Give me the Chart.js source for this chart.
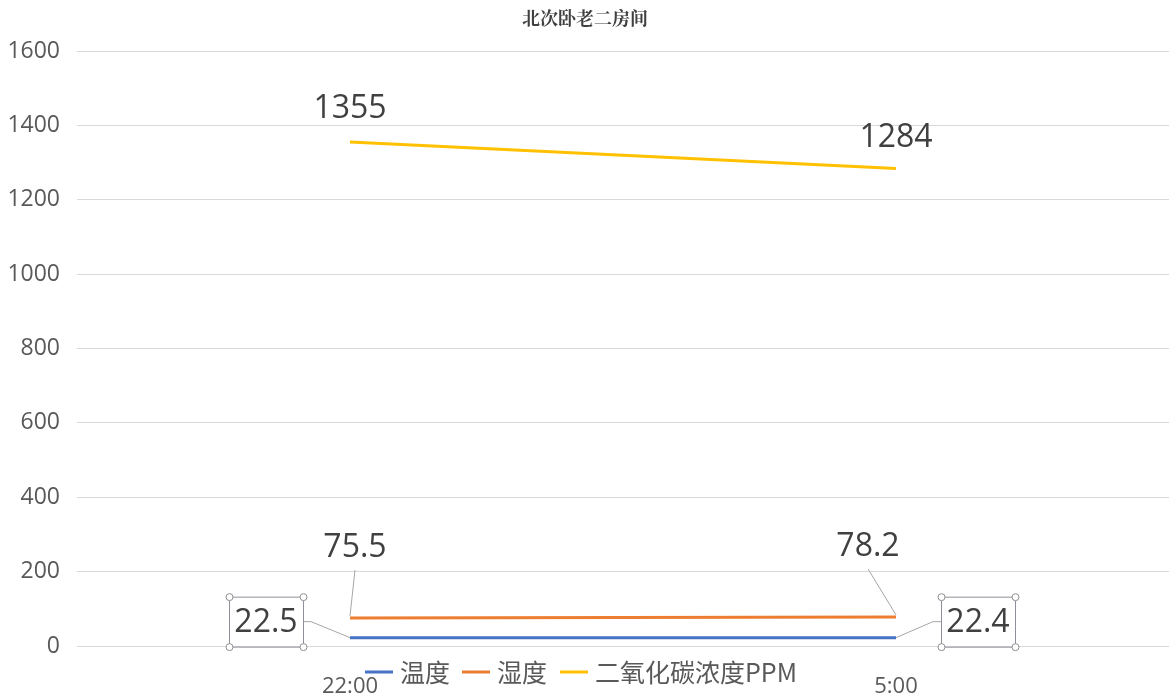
<!DOCTYPE html>
<html>
<head>
<meta charset="utf-8">
<script src="https://cdn.jsdelivr.net/npm/chart.js@4.4.1/dist/chart.umd.min.js"></script>
<style>
  html, body { margin: 0; padding: 0; background: #fff; }
  #wrap { width: 1169px; height: 699px; }
</style>
</head>
<body>
<div id="wrap"><canvas id="c" width="1169" height="699"></canvas></div>
<script>
// data
const chartTitle = '北次卧老二房间';
const times = ['22:00', '5:00'];
const seriesNames = ['温度', '湿度', '二氧化碳浓度PPM'];
const temperature = [22.5, 22.4];
const humidity = [75.5, 78.2];
const co2 = [1355, 1284];
const yTicks = [0, 200, 400, 600, 800, 1000, 1200, 1400, 1600];

const colors = ['#4472C4', '#ED7D31', '#FFC000'];
const numFont = '"Open Sans", "Noto Sans", sans-serif';
const cjkFont = '"Noto Sans CJK SC", sans-serif';

// label placement (dx, dy from point; box = boxed label)
const labelPos = [
  [{dx: -84, dy: -16, box: true, side: 'left'}, {dx: 82, dy: -16, box: true, side: 'right'}],
  [{dx: 5, dy: -70}, {dx: -28, dy: -70}],
  [{dx: 0, dy: -33}, {dx: 0, dy: -31}]
];

const labelsPlugin = {
  id: 'labels',
  afterDatasetsDraw(chart) {
    const ctx = chart.ctx;
    ctx.save();
    chart.data.datasets.forEach((ds, i) => {
      const meta = chart.getDatasetMeta(i);
      meta.data.forEach((pt, j) => {
        const p = labelPos[i][j];
        const tx = pt.x + p.dx, ty = pt.y + p.dy;
        const txt = String(ds.data[j]);
        ctx.font = '32px ' + numFont;
        ctx.fillStyle = '#404040';
        ctx.textAlign = 'center';
        ctx.textBaseline = 'middle';
        ctx.strokeStyle = '#a6a6a6';
        ctx.lineWidth = 1;
        if (p.box) {
          const w = 74, h = 50;
          const bx = tx - w / 2, by = ty - h / 2;
          // leader
          ctx.beginPath();
          if (p.side === 'left') {
            ctx.moveTo(bx + w, ty);
            ctx.lineTo(bx + w + 8, ty);
          } else {
            ctx.moveTo(bx, ty);
            ctx.lineTo(bx - 8, ty);
          }
          ctx.lineTo(pt.x, pt.y);
          ctx.stroke();
          ctx.strokeStyle = '#8f8f9a';
          ctx.strokeRect(bx + 0.5, by + 0.5, w, h);
          [[bx, by], [bx + w, by], [bx, by + h], [bx + w, by + h]].forEach(c => {
            ctx.beginPath();
            ctx.arc(c[0] + 0.5, c[1] + 0.5, 3.5, 0, Math.PI * 2);
            ctx.fillStyle = '#fff';
            ctx.fill();
            ctx.strokeStyle = '#8f8f8f';
            ctx.stroke();
          });
          ctx.fillStyle = '#404040';
          ctx.fillText(txt, tx, ty + 1);
        } else {
          if (i === 1) {
            ctx.beginPath();
            ctx.moveTo(tx, ty + 22);
            ctx.lineTo(pt.x, pt.y - 2);
            ctx.stroke();
          }
          ctx.fillText(txt, tx, ty);
        }
      });
    });
    ctx.restore();
  },
  afterDraw(chart) {
    const ctx = chart.ctx;
    ctx.save();
    // title
    ctx.font = 'bold 18px "Noto Serif CJK SC", ' + cjkFont;
    ctx.fillStyle = '#404040';
    ctx.textAlign = 'center';
    ctx.textBaseline = 'middle';
    ctx.fillText(chartTitle, 585, 18);
    // legend
    const legX = [365, 462, 560];
    const y = 672;
    ctx.font = '25px ' + cjkFont;
    ctx.textAlign = 'left';
    seriesNames.forEach((n, i) => {
      ctx.strokeStyle = colors[i];
      ctx.lineWidth = 3;
      ctx.beginPath();
      ctx.moveTo(legX[i], y);
      ctx.lineTo(legX[i] + 28, y);
      ctx.stroke();
      ctx.fillStyle = '#595959';
      ctx.fillText(n, legX[i] + 35, y);
    });
    ctx.restore();
  }
};

const series = [temperature, humidity, co2];
new Chart(document.getElementById('c'), {
  type: 'line',
  data: {
    labels: times,
    datasets: series.map((d, i) => ({
      label: seriesNames[i],
      data: d,
      borderColor: colors[i],
      borderWidth: 3,
      pointRadius: 0,
      tension: 0,
      fill: false
    }))
  },
  options: {
    responsive: false,
    animation: false,
    layout: { padding: { top: 51, right: 0, bottom: 0, left: 0 } },
    plugins: { legend: { display: false }, title: { display: false }, tooltip: { enabled: false } },
    scales: {
      x: {
        offset: true,
        grid: { display: false },
        border: { display: false },
        ticks: { font: { size: 22, family: numFont }, color: '#595959', padding: 20, maxRotation: 0 },
        afterFit(s) { s.height = 53; }
      },
      y: {
        min: 0, max: 1600,
        afterBuildTicks(s) { s.ticks = yTicks.map(v => ({ value: v })); },
        grid: { color: '#d9d9d9', drawTicks: false },
        border: { display: false },
        ticks: { font: { size: 23, family: numFont }, color: '#595959', padding: 17, callback: v => String(v) },
        afterFit(s) { s.width = 77; }
      }
    }
  },
  plugins: [labelsPlugin]
});
</script>
</body>
</html>
